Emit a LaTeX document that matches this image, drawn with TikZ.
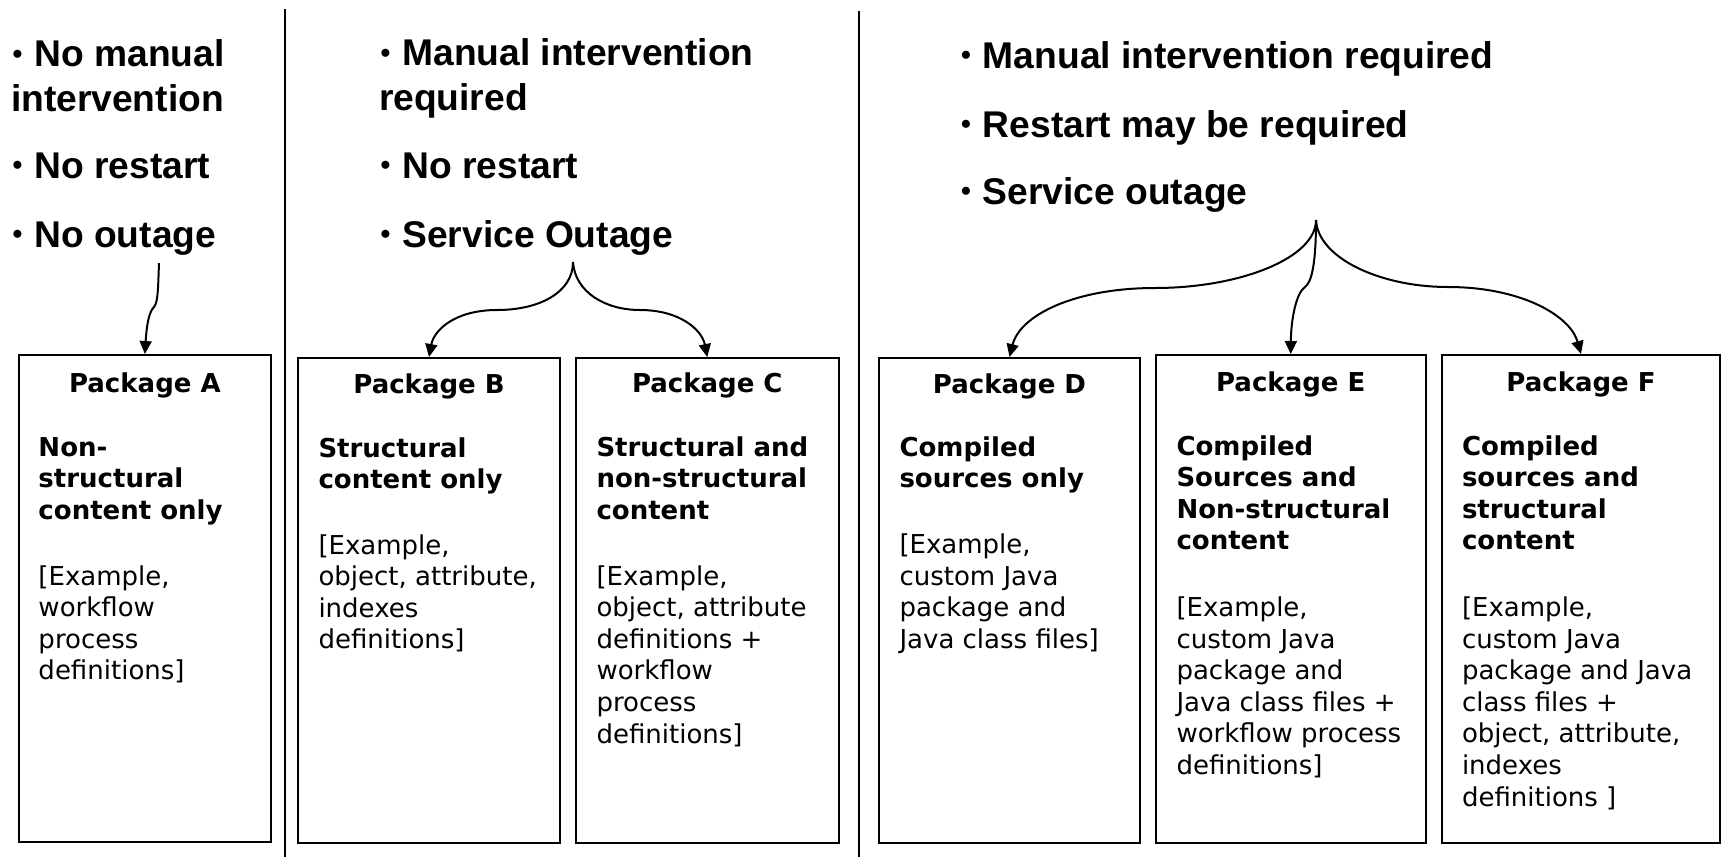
\documentclass[tikz,border=0pt]{standalone}
\usepackage{fontspec}
\setmainfont{Liberation Sans}
\newfontfamily\boxfont{DejaVu Sans}
\usetikzlibrary{arrows.meta}
\newcommand\blk[3]{\begin{minipage}[t]{#1}#2\raggedright #3\end{minipage}}
\newcommand\hfont{\bfseries\fontsize{18.6}{22.3}\selectfont}
\newcommand\bxbold{\boxfont\bfseries\fontsize{13}{15.8}\selectfont}
\newcommand\bxreg{\boxfont\fontsize{13}{15.8}\selectfont}
\newcommand\hbul{\leavevmode\rlap{\hspace{0.8pt}\raisebox{1.7pt}{\fontsize{14}{14}\selectfont •}}\hphantom{•}}
\begin{document}
\begin{tikzpicture}[x=0.5pt,y=-0.5pt,line width=1pt,
  head/.style={anchor=base west,inner sep=0pt},
  txt/.style={anchor=base west,inner sep=0pt},
  pkgbox/.style={draw,line width=1pt,inner sep=0pt},
  ttl/.style={anchor=base,inner sep=0pt,font=\bxbold},
  arr/.style={-{Triangle[length=6.5pt,width=6pt]},line width=1pt}]
\useasboundingbox[fill=white] (0,0) rectangle (1729,857);

% separators
\draw (284.5,9) -- (284.5,857);
\draw (859,11) -- (859,857);

% headings
\node[head] (h1a) at (10,66.5) {\blk{200pt}{\hfont}{\hbul{} No manual\\intervention}};
\node[head] (h1b) at (10,178) {\blk{200pt}{\hfont}{\hbul{} No restart}};
\node[head] (h1c) at (10,247) {\blk{200pt}{\hfont}{\hbul{} No outage}};
\node[head] (h2a) at (378,65.5) {\blk{250pt}{\hfont}{\hbul{} Manual intervention\\required}};
\node[head] (h2b) at (378,178) {\blk{250pt}{\hfont}{\hbul{} No restart}};
\node[head] (h2c) at (378,247) {\blk{250pt}{\hfont}{\hbul{} Service Outage}};
\node[head] (h3a) at (958.5,68) {\blk{380pt}{\hfont}{\hbul{} Manual intervention required}};
\node[head] (h3b) at (958.5,137) {\blk{380pt}{\hfont}{\hbul{} Restart may be required}};
\node[head] (h3c) at (958.5,204) {\blk{380pt}{\hfont}{\hbul{} Service outage}};

% boxes
\node[pkgbox,minimum width=126.15pt,minimum height=243.5pt] (boxA) at (144.85,598.5) {};
\node[pkgbox,minimum width=131pt,minimum height=242.5pt] (boxB) at (429,600.5) {};
\node[pkgbox,minimum width=131.7pt,minimum height=242.5pt] (boxC) at (707.3,600.5) {};
\node[pkgbox,minimum width=130.5pt,minimum height=242.5pt] (boxD) at (1009.5,600.5) {};
\node[pkgbox,minimum width=135.1pt,minimum height=244pt] (boxE) at (1290.7,599) {};
\node[pkgbox,minimum width=139pt,minimum height=244pt] (boxF) at (1581,599) {};

% titles
\node[ttl] (tA) at (144.85,392) {Package A};
\node[ttl] (tB) at (429,393) {Package B};
\node[ttl] (tC) at (707.3,392) {Package C};
\node[ttl] (tD) at (1009.5,393) {Package D};
\node[ttl] (tE) at (1290.7,391) {Package E};
\node[ttl] (tF) at (1581,391) {Package F};

% bold descriptions
\node[txt] (bA) at (37.5,456) {\blk{120pt}{\bxbold}{Non-\\structural\\content only}};
\node[txt] (bB) at (317.5,457) {\blk{125pt}{\bxbold}{Structural\\content only}};
\node[txt] (bC) at (595.5,456) {\blk{125pt}{\bxbold}{Structural and\\non-structural\\content}};
\node[txt] (bD) at (898.5,456) {\blk{125pt}{\bxbold}{Compiled\\sources only}};
\node[txt] (bE) at (1175.5,455) {\blk{125pt}{\bxbold}{Compiled\\Sources and\\Non-structural\\content}};
\node[txt] (bF) at (1461,455) {\blk{125pt}{\bxbold}{Compiled\\sources and\\structural\\content}};

% examples
\node[txt] (eA) at (37.5,585) {\blk{120pt}{\bxreg}{[Example,\\workflow\\process\\definitions]}};
\node[txt] (eB) at (317.5,554) {\blk{125pt}{\bxreg}{[Example,\\object, attribute,\\indexes\\definitions]}};
\node[txt] (eC) at (595.5,585) {\blk{125pt}{\bxreg}{[Example,\\object, attribute\\definitions +\\workflow\\process\\definitions]}};
\node[txt] (eD) at (898.5,553.5) {\blk{125pt}{\bxreg}{[Example,\\custom Java\\package and\\Java class files]}};
\node[txt] (eE) at (1175.5,616.5) {\blk{125pt}{\bxreg}{[Example,\\custom Java\\package and\\Java class files +\\workflow process\\definitions]}};
\node[txt] (eF) at (1461,616.5) {\blk{125pt}{\bxreg}{[Example,\\custom Java\\package and Java\\class files +\\object, attribute,\\indexes\\definitions ]}};

% connectors
\coordinate (sA) at (159,263);
\coordinate (sBC) at (573,262);
\coordinate (sDEF) at (1316,220);
\draw[arr] (sA) .. controls (158,290) and (158,302) .. (154,307)
  .. controls (150,311) and (147,320) .. (boxA.north);
\draw[arr] (sBC) .. controls (573,292) and (540,310) .. (497,310)
  .. controls (455,310) and (434,330) .. (boxB.north);
\draw[arr] (sBC) .. controls (575,292) and (605,310) .. (640,310)
  .. controls (680,310) and (702,330) .. (boxC.north);
\draw[arr] (sDEF) .. controls (1316,258) and (1240,288) .. (1155,288)
  .. controls (1075,288) and (1020,315) .. (boxD.north);
\draw[arr] (sDEF) .. controls (1316,262) and (1312,282) .. (1305,287)
  .. controls (1296,293) and (1291,320) .. (boxE.north);
\draw[arr] (sDEF) .. controls (1318,258) and (1380,287) .. (1448,287)
  .. controls (1520,287) and (1570,315) .. (boxF.north);
\end{tikzpicture}
\end{document}
